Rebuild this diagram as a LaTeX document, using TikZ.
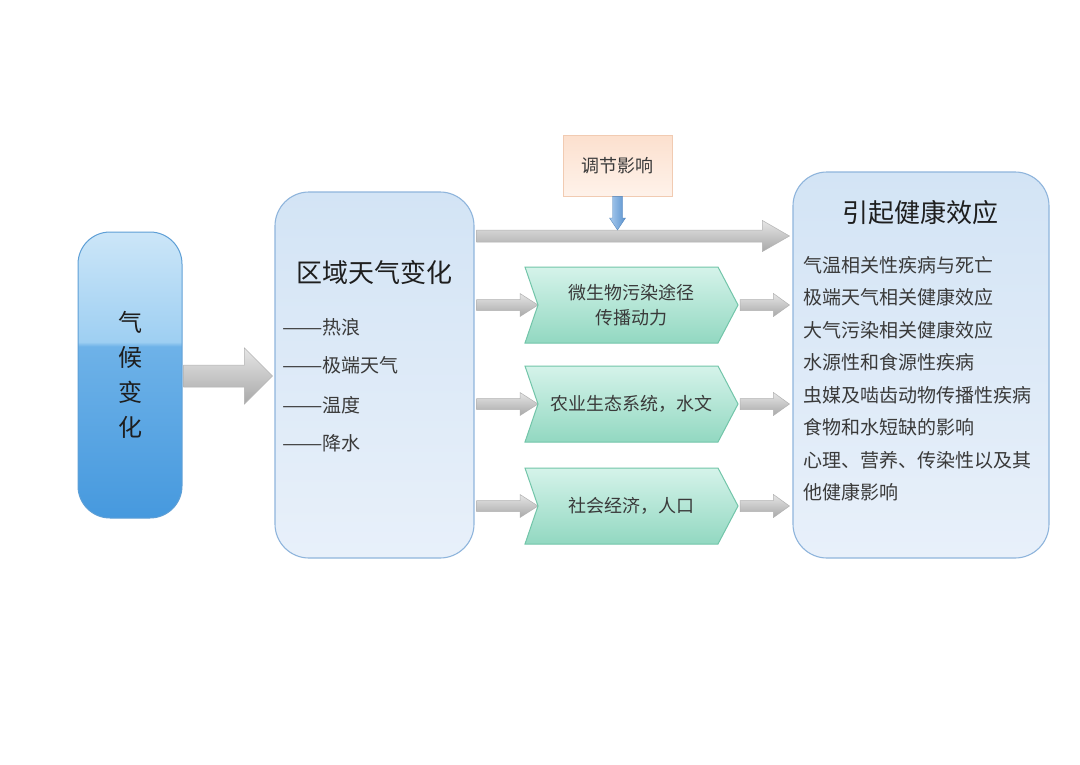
\documentclass[tikz,border=0pt]{standalone}
\usepackage{fontspec}
\usepackage{graphicx}
\setmainfont{Noto Sans CJK SC}
\usetikzlibrary{calc}
\definecolor{climA}{HTML}{CCE6F8}
\definecolor{climB}{HTML}{9ECFF2}
\definecolor{climC}{HTML}{6EB2E8}
\definecolor{climD}{HTML}{4699DE}
\definecolor{climdraw}{HTML}{5E9FD6}
\definecolor{regT}{HTML}{D3E4F5}
\definecolor{regB}{HTML}{E8F0FA}
\definecolor{regdraw}{HTML}{8FB5DC}
\definecolor{modT}{HTML}{FCE0CE}
\definecolor{modB}{HTML}{FEF2EA}
\definecolor{moddraw}{HTML}{F1CBB2}
\definecolor{chevT}{HTML}{D5F3EA}
\definecolor{chevB}{HTML}{92D8C1}
\definecolor{chevdraw}{HTML}{72C5A9}
\definecolor{txt}{HTML}{3A3A3A}
\definecolor{ttl}{HTML}{1E1E1E}
\definecolor{blueL}{HTML}{A9CBEE}
\definecolor{blueR}{HTML}{5A92CE}
\pgfdeclareverticalshading{climshade}{100bp}{color(0bp)=(climD); color(25bp)=(climD); color(55bp)=(climC); color(55.8bp)=(climB); color(75bp)=(climA); color(100bp)=(climA)}
% horizontal block arrow: [style]{start}{end}{half shaft}{half head}{head length}
\newcommand\harrow[6][]{%
  \path[#1] let \p1=#2, \p2=#3 in
    (\x1,\y1+#4) -- (\x2-#6,\y1+#4) -- (\x2-#6,\y1+#5) -- (\x2,\y1)
    -- (\x2-#6,\y1-#5) -- (\x2-#6,\y1-#4) -- (\x1,\y1-#4) -- cycle;}
% vertical (downward) block arrow
\newcommand\varrow[6][]{%
  \path[#1] let \p1=#2, \p2=#3 in
    (\x1-#4,\y1) -- (\x1-#4,\y2+#6) -- (\x1-#5,\y2+#6) -- (\x1,\y2)
    -- (\x1+#5,\y2+#6) -- (\x1+#4,\y2+#6) -- (\x1+#4,\y1) -- cycle;}
% chevron around a coordinate
\newcommand\chevron[1]{%
  \path[chevshape] ($(#1)+(-106.5,-38)$) -- ($(#1)+(86.5,-38)$) -- ($(#1)+(106.5,0)$)
    -- ($(#1)+(86.5,38)$) -- ($(#1)+(-106.5,38)$) -- ($(#1)+(-93.5,0)$) -- cycle;}
\newcommand\longdash{\scalebox{1.27}[1]{——}}
\begin{document}
\begin{tikzpicture}[x=1pt,y=-1pt,
  climbox/.style={draw=climdraw, line width=1pt, rounded corners=32pt, shading=climshade},
  regbox/.style={draw=regdraw, line width=1.1pt, rounded corners=34pt, top color=regT, bottom color=regB},
  modbox/.style={draw=moddraw, line width=0.6pt, top color=modT, bottom color=modB},
  chevshape/.style={draw=chevdraw, line width=1pt, top color=chevT, bottom color=chevB},
  grayarrow/.style={draw=gray!60, line width=0.5pt, top color=gray!20, bottom color=gray!68},
  bluearrow/.style={draw=blueR!90!black, line width=0.4pt, left color=blueL, right color=blueR},
  ttltext/.style={text=ttl, font=\fontsize{26}{30}\selectfont, inner sep=0pt},
  listtext/.style={text=txt, font=\fontsize{19}{22}\selectfont, inner sep=0pt, anchor=base west},
  chevtext/.style={text=txt, font=\fontsize{18}{25}\selectfont, align=center, inner sep=0pt},
]
\fill[white] (0,0) rectangle (1080,764);
\useasboundingbox (0,0) rectangle (1080,764);

% boxes
\node[climbox, minimum width=104pt, minimum height=286pt] (clim) at (130,375) {};
\node[regbox, minimum width=199pt, minimum height=366pt] (reg) at (374.5,375) {};
\node[regbox, minimum width=256pt, minimum height=386pt] (heal) at (921,365) {};
\node[modbox, minimum width=109pt, minimum height=61pt] (mod) at (617.5,165.5) {};

% row coordinates
\coordinate (lrow) at (617.5,236);
\coordinate (c1) at (631.5,305);
\coordinate (c2) at (631.5,404);
\coordinate (c3) at (631.5,506);
\coordinate (modtip) at (617.5,230);

% arrows
\harrow[grayarrow]{($(clim.east)+(1,1)$)}{($(reg.west)+(-2,1)$)}{11pt}{28pt}{28pt}
\harrow[grayarrow]{($(reg.east |- lrow)+(2,0)$)}{($(heal.west |- lrow)+(-3,0)$)}{6pt}{15.5pt}{27pt}
\varrow[bluearrow]{(mod.south)}{(modtip)}{5pt}{8pt}{12pt}
\foreach \c in {c1,c2,c3}{
  \harrow[grayarrow]{($(reg.east |- \c)+(2,0)$)}{($(\c)+(-93.5,0)$)}{5.5pt}{11.5pt}{18pt}
  \harrow[grayarrow]{($(\c)+(108.5,0)$)}{($(heal.west |- \c)+(-3,0)$)}{5.5pt}{11.5pt}{16pt}
}

% chevrons
\chevron{c1}
\chevron{c2}
\chevron{c3}

% texts
\node[text=ttl, font=\fontsize{24}{35}\selectfont, align=center, inner sep=0pt] (climt) at (130,375) {气\\候\\变\\化};
\node[ttltext, anchor=base] (regt) at (374.5,282) {区域天气变化};
\node[listtext] (r1) at (282,334) {\longdash 热浪};
\node[listtext] (r2) at (282,372) {\longdash 极端天气};
\node[listtext] (r3) at (282,412) {\longdash 温度};
\node[listtext] (r4) at (282,450) {\longdash 降水};
\node[text=txt, font=\fontsize{18}{22}\selectfont, inner sep=0pt, anchor=base] (modt) at (617.5,172) {调节影响};
\node[chevtext] (ch1) at (c1) {微生物污染途径\\传播动力};
\node[chevtext] (ch2) at (c2) {农业生态系统，水文};
\node[chevtext] (ch3) at (c3) {社会经济，人口};
\node[ttltext, anchor=base] (healt) at (920,222) {引起健康效应};
\node[listtext] (h1) at (803,272) {气温相关性疾病与死亡};
\node[listtext] (h2) at (803,304.5) {极端天气相关健康效应};
\node[listtext] (h3) at (803,337) {大气污染相关健康效应};
\node[listtext] (h4) at (803,369.5) {水源性和食源性疾病};
\node[listtext] (h5) at (803,402) {虫媒及啮齿动物传播性疾病};
\node[listtext] (h6) at (803,434.5) {食物和水短缺的影响};
\node[listtext] (h7) at (803,467) {心理、营养、传染性以及其};
\node[listtext] (h8) at (803,499.5) {他健康影响};
\end{tikzpicture}
\end{document}
